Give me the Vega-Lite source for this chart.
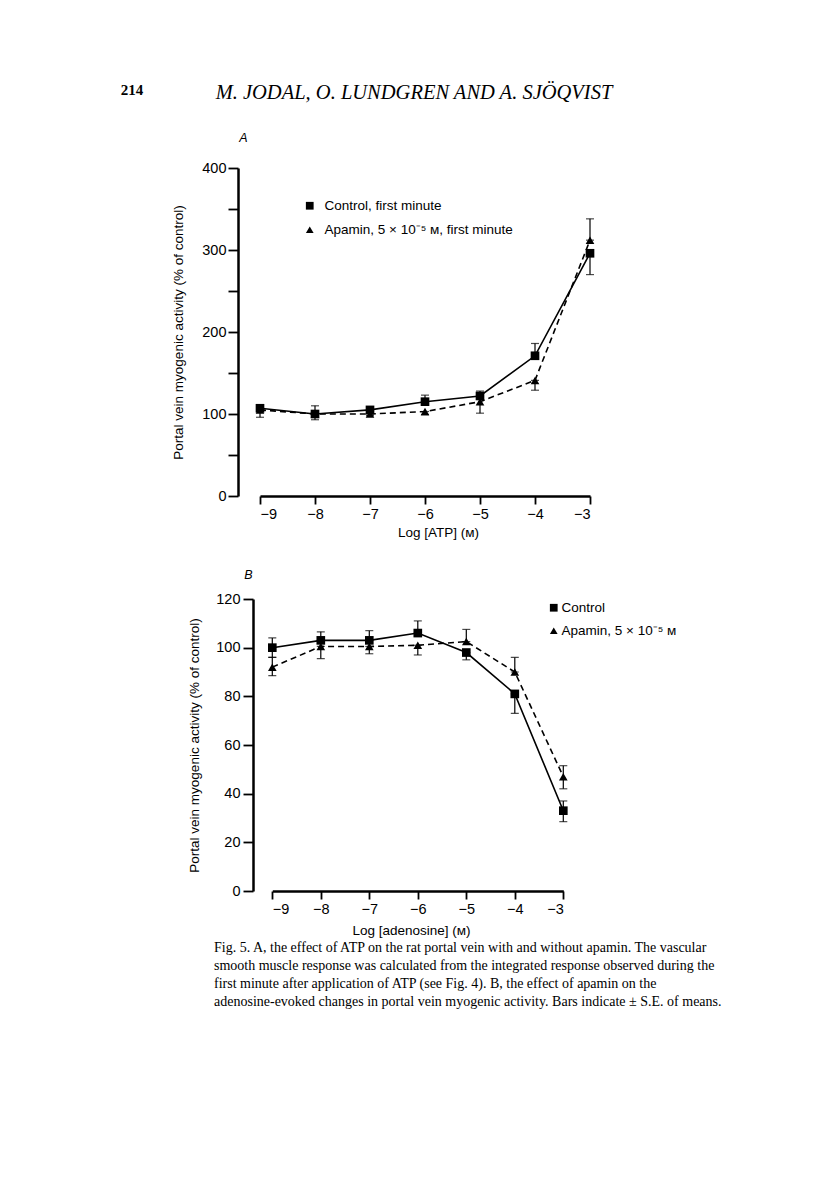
{
  "$schema": "https://vega.github.io/schema/vega-lite/v6.json",
  "autosize": {"type": "none"},
  "padding": {"left": 260, "top": 168, "right": 556, "bottom": 1015},
  "background": "white",
  "title": {"text": "214", "anchor": "start", "frame": "bounds", "font": "Liberation Serif", "fontSize": 15, "fontWeight": "bold", "color": "black", "offset": -15, "dx": -51},
  "datasets": {
    "atp": [
      {"conc": -9, "series": "Control, first minute", "value": 107, "lo": 103, "hi": 111},
      {"conc": -8, "series": "Control, first minute", "value": 100, "lo": 100, "hi": 110},
      {"conc": -7, "series": "Control, first minute", "value": 105, "lo": 102, "hi": 108},
      {"conc": -6, "series": "Control, first minute", "value": 115, "lo": 115, "hi": 123},
      {"conc": -5, "series": "Control, first minute", "value": 122, "lo": 119, "hi": 126},
      {"conc": -4, "series": "Control, first minute", "value": 171, "lo": 171, "hi": 186},
      {"conc": -3, "series": "Control, first minute", "value": 296, "lo": 270, "hi": 296},
      {"conc": -9, "series": "Apamin, 5 × 10⁻⁵ м, first minute", "value": 105, "lo": 96, "hi": 105},
      {"conc": -8, "series": "Apamin, 5 × 10⁻⁵ м, first minute", "value": 100, "lo": 93, "hi": 100},
      {"conc": -7, "series": "Apamin, 5 × 10⁻⁵ м, first minute", "value": 100, "lo": 98, "hi": 100},
      {"conc": -6, "series": "Apamin, 5 × 10⁻⁵ м, first minute", "value": 103, "lo": 99, "hi": 103},
      {"conc": -5, "series": "Apamin, 5 × 10⁻⁵ м, first minute", "value": 115, "lo": 101, "hi": 128},
      {"conc": -4, "series": "Apamin, 5 × 10⁻⁵ м, first minute", "value": 141, "lo": 129, "hi": 141},
      {"conc": -3, "series": "Apamin, 5 × 10⁻⁵ м, first minute", "value": 312, "lo": 312, "hi": 338}
    ],
    "ado": [
      {"conc": -9, "series": "Control", "value": 100, "lo": 96, "hi": 104},
      {"conc": -8, "series": "Control", "value": 103, "lo": 103, "hi": 106.5},
      {"conc": -7, "series": "Control", "value": 103, "lo": 103, "hi": 107},
      {"conc": -6, "series": "Control", "value": 106, "lo": 106, "hi": 111},
      {"conc": -5, "series": "Control", "value": 98, "lo": 95, "hi": 98},
      {"conc": -4, "series": "Control", "value": 81, "lo": 73, "hi": 81},
      {"conc": -3, "series": "Control", "value": 33, "lo": 28.5, "hi": 37},
      {"conc": -9, "series": "Apamin, 5 × 10⁻⁵ м", "value": 92, "lo": 88.5, "hi": 96},
      {"conc": -8, "series": "Apamin, 5 × 10⁻⁵ м", "value": 100.5, "lo": 95.5, "hi": 100.5},
      {"conc": -7, "series": "Apamin, 5 × 10⁻⁵ м", "value": 100.5, "lo": 97.5, "hi": 100.5},
      {"conc": -6, "series": "Apamin, 5 × 10⁻⁵ м", "value": 101, "lo": 97, "hi": 101},
      {"conc": -5, "series": "Apamin, 5 × 10⁻⁵ м", "value": 102.5, "lo": 102.5, "hi": 107.5},
      {"conc": -4, "series": "Apamin, 5 × 10⁻⁵ м", "value": 90, "lo": 90, "hi": 96},
      {"conc": -3, "series": "Apamin, 5 × 10⁻⁵ м", "value": 47, "lo": 42, "hi": 51.5}
    ]
  },
  "bounds": "flush",
  "spacing": 103,
  "resolve": {"scale": {"shape": "independent"}, "legend": {"shape": "independent"}},
  "vconcat": [
    {
      "width": 330,
      "height": 328,
      "title": {"text": "M. JODAL, O. LUNDGREN AND A. SJÖQVIST", "font": "Liberation Serif", "fontStyle": "italic", "fontSize": 20.5, "fontWeight": "normal", "color": "black", "anchor": "middle", "frame": "group", "dx": -11, "offset": 28},
      "data": {"name": "atp"},
      "resolve": {"axis": {"x": "independent"}},
      "encoding": {
        "x": {"field": "conc", "type": "quantitative", "scale": {"domain": [-9, -3], "nice": false, "zero": false},
              "axis": {"values": [-9, -8, -7, -6, -5, -4, -3], "tickSize": 8, "labelPadding": 3, "titlePadding": 5, "titleX": 178, "title": "Log [ATP] (м)"}},
        "y": {"field": "value", "type": "quantitative", "scale": {"domain": [0, 400], "nice": false},
              "axis": {"values": [0, 50, 100, 150, 200, 250, 300, 350, 400], "labelExpr": "datum.value % 100 === 0 ? datum.label : ''", "offset": 22, "tickSize": 10, "labelPadding": 2, "titlePadding": 16, "title": "Portal vein myogenic activity (% of control)"}}
      },
      "layer": [
        {"mark": {"type": "errorbar", "color": "black", "thickness": 1.2, "ticks": {"size": 8, "color": "black", "thickness": 1.2}},
         "encoding": {"y": {"field": "lo", "type": "quantitative", "title": "Portal vein myogenic activity (% of control)"}, "y2": {"field": "hi"}}},
        {"transform": [{"filter": "datum.series === 'Control, first minute'"}],
         "mark": {"type": "line", "color": "black", "strokeWidth": 1.6},
         "encoding": {"x": {"field": "conc", "type": "quantitative", "axis": null}}},
        {"transform": [{"filter": "datum.series !== 'Control, first minute'"}],
         "mark": {"type": "line", "color": "black", "strokeWidth": 1.6, "strokeDash": [6, 4]},
         "encoding": {"x": {"field": "conc", "type": "quantitative", "axis": null}}},
        {"mark": {"type": "point", "filled": true, "color": "black", "opacity": 1, "size": 75},
         "encoding": {
           "x": {"field": "conc", "type": "quantitative", "axis": {"orient": "top", "domain": false, "ticks": false, "labels": false, "title": "A", "titleFont": "Liberation Sans", "titleFontStyle": "italic", "titleFontSize": 12.5, "titleX": -17, "titleY": -31, "titleAlign": "center", "titleBaseline": "middle", "titleAngle": 0}},
           "shape": {"field": "series", "type": "nominal", "scale": {"domain": ["Control, first minute", "Apamin, 5 × 10⁻⁵ м, first minute"], "range": ["square", "triangle-up"]},
              "legend": {"orient": "none", "legendX": 43, "legendY": 31, "title": null, "labelFont": "Liberation Sans", "labelFontSize": 13.5, "labelColor": "black", "labelLimit": 0, "symbolSize": 60, "symbolFillColor": "black", "symbolStrokeColor": "black", "symbolStrokeWidth": 0, "rowPadding": 9, "labelOffset": 8}}}}
      ]
    },
    {
      "width": 304,
      "height": 292,
      "title": {"text": [
        "Fig. 5. A, the effect of ATP on the rat portal vein with and without apamin. The vascular",
        "smooth muscle response was calculated from the integrated response observed during the",
        "first minute after application of ATP (see Fig. 4). B, the effect of apamin on the",
        "adenosine-evoked changes in portal vein myogenic activity. Bars indicate ± S.E. of means."],
        "orient": "bottom", "anchor": "start", "frame": "group", "dx": -46, "offset": 4,
        "font": "Liberation Serif", "fontSize": 14, "fontWeight": "normal", "lineHeight": 18, "color": "black"},
      "data": {"name": "ado"},
      "resolve": {"axis": {"x": "independent"}},
      "encoding": {
        "x": {"field": "conc", "type": "quantitative", "scale": {"domain": [-9, -3], "range": [12.3, 303.3], "nice": false, "zero": false},
              "axis": {"values": [-9, -8, -7, -6, -5, -4, -3], "tickSize": 8, "labelPadding": 3, "titlePadding": 8, "titleX": 151, "title": "Log [adenosine] (м)"}},
        "y": {"field": "value", "type": "quantitative", "scale": {"domain": [0, 120], "nice": false},
              "axis": {"values": [0, 20, 40, 60, 80, 100, 120], "offset": 7, "tickSize": 10, "labelPadding": 3, "titlePadding": 14, "title": "Portal vein myogenic activity (% of control)"}}
      },
      "layer": [
        {"mark": {"type": "errorbar", "color": "black", "thickness": 1.2, "ticks": {"size": 8, "color": "black", "thickness": 1.2}},
         "encoding": {"y": {"field": "lo", "type": "quantitative", "title": "Portal vein myogenic activity (% of control)"}, "y2": {"field": "hi"}}},
        {"transform": [{"filter": "datum.series === 'Control'"}],
         "mark": {"type": "line", "color": "black", "strokeWidth": 1.6},
         "encoding": {"x": {"field": "conc", "type": "quantitative", "axis": null}}},
        {"transform": [{"filter": "datum.series !== 'Control'"}],
         "mark": {"type": "line", "color": "black", "strokeWidth": 1.6, "strokeDash": [6, 4]},
         "encoding": {"x": {"field": "conc", "type": "quantitative", "axis": null}}},
        {"mark": {"type": "point", "filled": true, "color": "black", "opacity": 1, "size": 75},
         "encoding": {
           "x": {"field": "conc", "type": "quantitative", "axis": {"orient": "top", "domain": false, "ticks": false, "labels": false, "title": "B", "titleFont": "Liberation Sans", "titleFontStyle": "italic", "titleFontSize": 12.5, "titleX": -12, "titleY": -25, "titleAlign": "center", "titleBaseline": "middle", "titleAngle": 0}},
           "shape": {"field": "series", "type": "nominal", "scale": {"domain": ["Control", "Apamin, 5 × 10⁻⁵ м"], "range": ["square", "triangle-up"]},
              "legend": {"orient": "none", "legendX": 287, "legendY": 2, "title": null, "labelFont": "Liberation Sans", "labelFontSize": 13.5, "labelColor": "black", "labelLimit": 0, "symbolSize": 60, "symbolFillColor": "black", "symbolStrokeColor": "black", "symbolStrokeWidth": 0, "rowPadding": 8, "labelOffset": 1}}}}
      ]
    }
  ],
  "config": {
    "view": {"stroke": null},
    "axis": {"domainColor": "black", "tickColor": "black", "labelColor": "black", "titleColor": "black", "labelFont": "Liberation Sans", "titleFont": "Liberation Sans", "titleFontWeight": "normal", "grid": false, "domainWidth": 2.5, "tickWidth": 1.8, "labelFontSize": 14.5, "titleFontSize": 13.5}
  }
}
